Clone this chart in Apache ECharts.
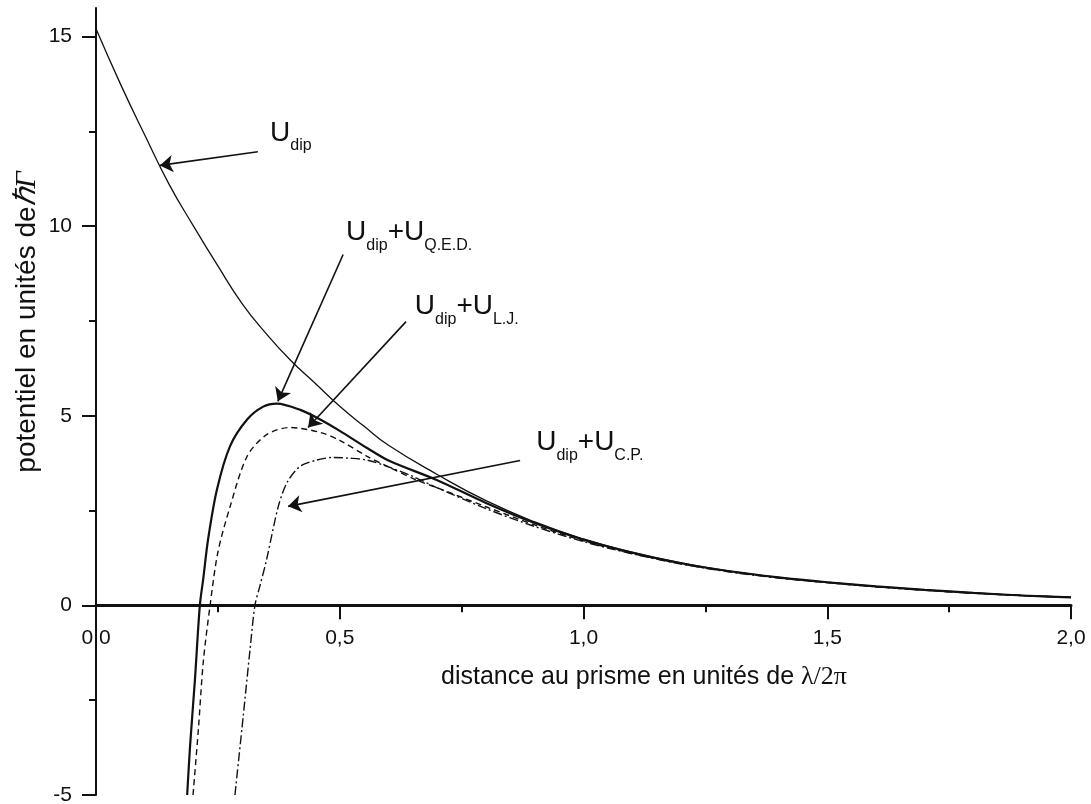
<!DOCTYPE html>
<html><head><meta charset="utf-8">
<script src="https://cdn.jsdelivr.net/npm/echarts@6/dist/echarts.min.js"></script>
<style>html,body{margin:0;padding:0;background:#fff}#c{width:1091px;height:804px}</style>
</head><body><div id="c"></div>
<script>
// ---- data ----
const xTickValues = [0, 0.5, 1, 1.5, 2];
const yTickValues = [-5, 0, 5, 10, 15];
const yMinorTickValues = [-2.5, 2.5, 7.5, 12.5];

const uDip = [[0,15.2],[0.05,13.75],[0.1,12.4],[0.15,11.1],[0.2,10.0],[0.25,8.95],[0.3,7.95],[0.35,7.15],
  [0.4,6.45],[0.45,5.85],[0.5,5.25],[0.55,4.72],[0.6,4.22],[0.7,3.45],[0.8,2.76],[0.9,2.2],[1.0,1.75],
  [1.1,1.4],[1.2,1.12],[1.3,0.9],[1.4,0.74],[1.5,0.61],[1.6,0.5],[1.7,0.41],[1.8,0.33],[1.9,0.26],[2.0,0.21]];

const uQED = [[0.187,-5],[0.193,-3.7],[0.203,-1.95],[0.213,0],[0.22,0.7],[0.23,1.75],[0.248,3.05],[0.275,4.2],
  [0.31,4.9],[0.343,5.24],[0.371,5.32],[0.418,5.16],[0.46,4.9],[0.5,4.6],[0.556,4.15],[0.6,3.82],[0.7,3.3],
  [0.8,2.7],[0.9,2.17],[1.0,1.73],[1.1,1.39],[1.2,1.11],[1.3,0.9],[1.4,0.74],[1.5,0.61],[1.6,0.5],[1.7,0.41],
  [1.8,0.33],[1.9,0.26],[2.0,0.21]];

const uLJ = [[0.199,-5],[0.21,-3.27],[0.22,-1.5],[0.234,0],[0.25,1.4],[0.275,2.6],[0.31,3.93],[0.35,4.5],
  [0.398,4.69],[0.46,4.56],[0.5,4.35],[0.556,3.93],[0.6,3.65],[0.658,3.3],[0.7,3.1],[0.8,2.6],[0.9,2.12],
  [1.0,1.7],[1.1,1.37],[1.2,1.1],[1.3,0.89],[1.4,0.73],[1.5,0.6],[1.6,0.49],[1.7,0.4],[1.8,0.32],[1.9,0.26],[2.0,0.21]];

const uCP = [[0.285,-5],[0.302,-2.92],[0.316,-1.16],[0.326,0],[0.336,0.5],[0.35,1.21],[0.374,2.61],[0.392,3.24],
  [0.418,3.66],[0.45,3.82],[0.486,3.9],[0.52,3.88],[0.556,3.83],[0.6,3.65],[0.65,3.4],[0.7,3.1],[0.8,2.55],
  [0.9,2.08],[1.0,1.68],[1.1,1.36],[1.2,1.09],[1.3,0.88],[1.4,0.72],[1.5,0.6],[1.6,0.49],[1.7,0.4],[1.8,0.32],[1.9,0.26],[2.0,0.21]];

// ---- annotations (data coordinates) ----
const annotations = [
  {from:[0.332,11.96], to:[0.131,11.6], at:[0.357,12.2], parts:[['U','b'],['dip','s']]},
  {from:[0.507,9.25], to:[0.373,5.38], at:[0.513,9.57], parts:[['U','b'],['dip','s'],['+','b'],['U','b'],['Q.E.D.','s']]},
  {from:[0.636,7.48], to:[0.435,4.69], at:[0.654,7.62], parts:[['U','b'],['dip','s'],['+','b'],['U','b'],['L.J.','s']]},
  {from:[0.870,3.82], to:[0.394,2.61], at:[0.903,4.03], parts:[['U','b'],['dip','s'],['+','b'],['U','b'],['C.P.','s']]}
];

const FONT = "'Liberation Sans', Arial, Helvetica, sans-serif";
const INK = '#111';
const Y_MIN = -5, Y_MAX = 15.75;
const chart = echarts.init(document.getElementById('c'), null, {renderer:'canvas'});

function lineSeries(name, data, lineStyle, ann, z, smooth) {
  return {
    type:'line', name, data, xAxisIndex:0, yAxisIndex:0,
    showSymbol:false, symbol:'none', smooth:smooth,
    lineStyle:Object.assign({color:INK}, lineStyle), silent:true, z,
    markLine:{silent:true, animation:false, symbol:['none','arrow'], symbolSize:13,
      label:{show:false}, emphasis:{disabled:true},
      lineStyle:{type:'solid', color:INK, width:1.6},
      data:[[{coord:ann.from},{coord:ann.to}]]}
  };
}

// grid 0 holds the curves; grid 1 only carries the x axis drawn at y = 0
const plotTop = 8, plotBottom = 9, plotH = 804 - plotTop - plotBottom;
const zeroFromBottom = plotBottom + plotH * (0 - Y_MIN) / (Y_MAX - Y_MIN);

chart.setOption({
  animation:false,
  backgroundColor:'#fff',
  grid:[
    {left:96, right:20, top:plotTop, bottom:plotBottom, containLabel:false, outerBoundsMode:'none'},
    {left:96, right:20, top:plotTop, bottom:zeroFromBottom, containLabel:false, outerBoundsMode:'none'}
  ],
  xAxis:[
    {type:'value', gridIndex:0, min:0, max:2, interval:0.5, show:false},
    {type:'value', gridIndex:1, min:0, max:2, interval:0.5, position:'bottom',
      axisLine:{onZero:false, lineStyle:{color:INK, width:3}},
      axisTick:{show:true, inside:false, length:14, lineStyle:{color:INK, width:2}},
      minorTick:{show:true, splitNumber:2, length:7, lineStyle:{color:INK, width:2}},
      axisLabel:{margin:22, color:INK, fontSize:21, fontFamily:FONT,
        formatter:v => v.toFixed(1).replace('.', ',')},
      splitLine:{show:false}, minorSplitLine:{show:false}}
  ],
  yAxis:[
    {type:'value', gridIndex:0, min:Y_MIN, max:Y_MAX, position:'left',
      axisLine:{show:true, onZero:false, lineStyle:{color:INK, width:2}},
      axisTick:{show:true, inside:false, length:14, customValues:yTickValues, lineStyle:{color:INK, width:2}},
      axisLabel:{margin:24, color:INK, fontSize:21, fontFamily:FONT, customValues:yTickValues,
        formatter:v => String(v)},
      splitLine:{show:false}},
    {type:'value', gridIndex:0, min:Y_MIN, max:Y_MAX, position:'left',
      axisLine:{show:false, onZero:false},
      axisTick:{show:true, inside:false, length:7, customValues:yMinorTickValues, lineStyle:{color:INK, width:2}},
      axisLabel:{show:false}, splitLine:{show:false}},
    {type:'value', gridIndex:1, min:0, max:1, show:false}
  ],
  series:[
    lineSeries('U_dip', uDip, {width:1.3}, annotations[0], 3, 0.5),
    lineSeries('U_dip+U_QED', uQED, {width:2.2}, annotations[1], 4, 0.3),
    lineSeries('U_dip+U_LJ', uLJ, {width:1.4, type:[6,4]}, annotations[2], 3, 0.3),
    lineSeries('U_dip+U_CP', uCP, {width:1.4, type:[9,3,2,3]}, annotations[3], 3, 0.3)
  ]
});

// text measuring
const mctx = document.createElement('canvas').getContext('2d');
function measure(t, size) { mctx.font = size + 'px ' + FONT; return mctx.measureText(t).width; }

const BIG = 28, SUB = 16, SUBDROP = 9;
const graphics = [];
annotations.forEach(a => {
  const p = chart.convertToPixel({xAxisIndex:0, yAxisIndex:0}, a.at);
  let x = p[0];
  const base = p[1];
  a.parts.forEach(([t, k]) => {
    const size = k === 'b' ? BIG : SUB;
    const bl = k === 'b' ? base : base + SUBDROP;
    graphics.push({type:'text', x:x, y:bl - 0.35 * size, silent:true,
      style:{text:t, fill:INK, font:size + 'px ' + FONT, align:'left', verticalAlign:'middle'}});
    x += measure(t, size);
  });
});

// axis titles
graphics.push({type:'text', x:644, y:677, silent:true,
  style:{text:'{a|distance au prisme en unités de }{g|λ/2π}', align:'center', verticalAlign:'middle',
    rich:{a:{fontSize:25, fontFamily:FONT, fill:INK}, g:{fontSize:26, fontFamily:"'Liberation Serif', serif", fill:INK}}}});
graphics.push({type:'text', x:27, y:322, rotation:Math.PI/2, silent:true,
  style:{text:'{a|potentiel en unités de}{g|ℏΓ}', align:'center', verticalAlign:'middle',
    rich:{a:{fontSize:28, fontFamily:FONT, fill:INK}, g:{fontSize:30, fontStyle:'italic', fontFamily:"'Liberation Serif', serif", fill:INK}}}});

chart.setOption({graphic:graphics});
</script></body></html>
